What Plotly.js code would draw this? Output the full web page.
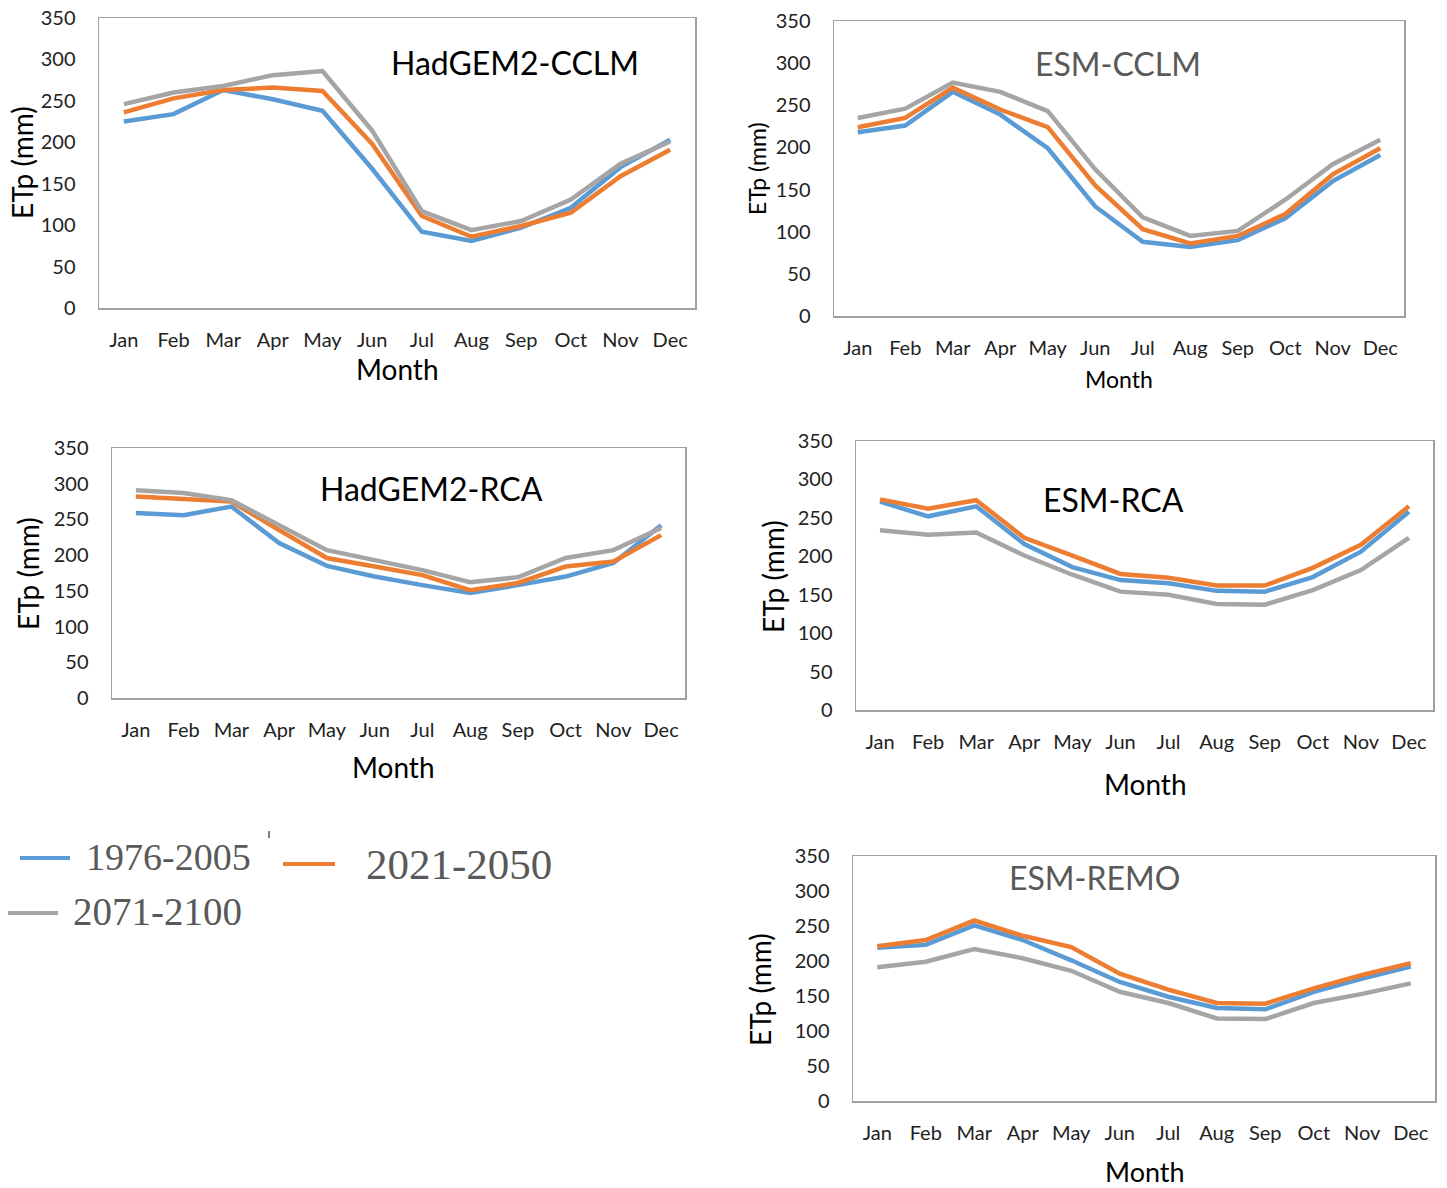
<!DOCTYPE html>
<html>
<head>
<meta charset="utf-8">
<script src="https://cdn.plot.ly/plotly-3.0.1.min.js"></script>
<style>html,body{margin:0;padding:0;background:#fff;}#chart{width:1447px;height:1188px;}</style>
</head>
<body>
<div id="chart"></div>
<script>
// ---- data ----
const months = ["Jan","Feb","Mar","Apr","May","Jun","Jul","Aug","Sep","Oct","Nov","Dec"];
const periods = ["1976-2005","2021-2050","2071-2100"];
const yTicks = [0,50,100,150,200,250,300,350];

const hadCclm_1976 = [225,234,263,252,238,168,92,81,97,121,170,203];
const hadCclm_2021 = [236,253,263,266,262,198,111,86,99,115,159,191];
const hadCclm_2071 = [246,260,268,281,286,214,117,94,105,131,174,201];

const esmCclm_1976 = [218,226,266,239,199,130,88,82,90,116,160,191];
const esmCclm_2021 = [224,235,271,245,224,155,103,86,95,121,168,199];
const esmCclm_2071 = [235,246,277,266,243,174,117,95,101,138,180,209];

const hadRca_1976 = [259,256,268,217,185,170,158,147,158,170,189,242];
const hadRca_2021 = [282,279,275,235,196,184,172,151,161,184,191,228];
const hadRca_2071 = [291,287,277,242,207,193,179,162,169,196,207,238];

const esmRca_1976 = [271,252,265,216,186,169,165,155,154,173,206,258];
const esmRca_2021 = [274,262,273,224,201,177,172,162,162,185,215,265];
const esmRca_2071 = [234,228,231,201,176,154,150,138,137,156,182,224];

const esmRemo_1976 = [219,223,251,230,201,170,149,133,131,156,175,192];
const esmRemo_2021 = [221,230,258,236,220,182,159,140,139,161,180,197];
const esmRemo_2071 = [191,199,217,204,186,156,140,118,117,140,153,168];

// ---- layout helpers ----
const W = 1447, H = 1188;
const px = v => v / W;
const py = v => 1 - v / H;
const colors = ["#5B9BD5", "#ED7D31", "#A5A5A5"];
const FONT = "Lato, 'Open Sans', sans-serif";

const panels = [
  {series:[hadCclm_1976,hadCclm_2021,hadCclm_2071], title:"HadGEM2-CCLM", titleColor:"#000",
   box:[99,695,18,308], t:[515,62,32], yt:[22,163,28], xt:[397,369,28]},
  {series:[esmCclm_1976,esmCclm_2021,esmCclm_2071], title:"ESM-CCLM", titleColor:"#595959",
   box:[834,1404,21,316], t:[1118,64,32], yt:[757,169,23], xt:[1119,379,23]},
  {series:[hadRca_1976,hadRca_2021,hadRca_2071], title:"HadGEM2-RCA", titleColor:"#000",
   box:[112,685,448,698], t:[432,488,32], yt:[28,574,28], xt:[393,767,28]},
  {series:[esmRca_1976,esmRca_2021,esmRca_2071], title:"ESM-RCA", titleColor:"#000",
   box:[856,1433,441,710], t:[1113,500,32], yt:[773,577,28], xt:[1145,784,28]},
  {series:[esmRemo_1976,esmRemo_2021,esmRemo_2071], title:"ESM-REMO", titleColor:"#595959",
   box:[853,1435,856,1101], t:[1094,877,32], yt:[760,990,28], xt:[1145,1171,27]}
];

const data = [];
const layout = {
  width: W, height: H,
  margin: {l:0, r:0, t:0, b:0},
  paper_bgcolor: "#fff", plot_bgcolor: "#fff",
  showlegend: false,
  font: {family: FONT, color: "#222"},
  annotations: [], shapes: []
};

panels.forEach((p, i) => {
  const n = i === 0 ? "" : String(i + 1);
  p.series.forEach((s, k) => {
    data.push({
      type: "scatter", mode: "lines", x: months, y: s, name: periods[k],
      xaxis: "x" + n, yaxis: "y" + n,
      line: {color: colors[k], width: 4.5}, hoverinfo: "x+y+name"
    });
  });
  const [l, r, t, b] = p.box;
  layout["xaxis" + n] = {
    domain: [px(l), px(r)], anchor: "y" + n, type: "category",
    range: [-0.5, 11.5], showgrid: false, zeroline: false,
    showline: true, mirror: true, linecolor: "#A0A0A0", linewidth: 1.5,
    ticks: "", ticklabelstandoff: 13,
    tickfont: {family: FONT, size: 20, color: "#222"}
  };
  layout["yaxis" + n] = {
    domain: [py(b), py(t)], anchor: "x" + n,
    range: [0, 350], tickvals: yTicks, showgrid: false, zeroline: false,
    showline: true, mirror: true, linecolor: "#A0A0A0", linewidth: 1.5,
    ticks: "", ticklabelstandoff: 18,
    tickfont: {family: FONT, size: 20, color: "#222"}
  };
  layout.annotations.push(
    {xref:"paper", yref:"paper", x:px(p.t[0]), y:py(p.t[1]), text:p.title, showarrow:false,
     xanchor:"center", yanchor:"middle", font:{family:FONT, size:p.t[2], color:p.titleColor}},
    {xref:"paper", yref:"paper", x:px(p.yt[0]), y:py(p.yt[1]), text:"ETp (mm)", showarrow:false,
     textangle:-90, xanchor:"center", yanchor:"middle", font:{family:FONT, size:p.yt[2], color:"#000"}},
    {xref:"paper", yref:"paper", x:px(p.xt[0]), y:py(p.xt[1]), text:"Month", showarrow:false,
     xanchor:"center", yanchor:"middle", font:{family:FONT, size:p.xt[2], color:"#000"}}
  );
});

// ---- custom legend (bottom-left) ----
const SERIF = "'Liberation Serif', 'DejaVu Serif', serif";
const legendItems = [
  {k:0, line:[20,70,858], text:[84,857,38]},
  {k:1, line:[283,335,864], text:[364,864,43]},
  {k:2, line:[8,58,913], text:[71,912,39]}
];
legendItems.forEach(it => {
  layout.shapes.push({type:"line", xref:"paper", yref:"paper",
    x0:px(it.line[0]), x1:px(it.line[1]), y0:py(it.line[2]), y1:py(it.line[2]),
    line:{color:colors[it.k], width:4}});
  layout.annotations.push({xref:"paper", yref:"paper", x:px(it.text[0]), y:py(it.text[1]),
    text:periods[it.k], showarrow:false, xanchor:"left", yanchor:"middle",
    font:{family:SERIF, size:it.text[2], color:"#595959"}});
});
layout.shapes.push({type:"line", xref:"paper", yref:"paper",
  x0:px(269), x1:px(269), y0:py(831), y1:py(838), line:{color:"#000", width:1}});

Plotly.newPlot("chart", data, layout, {staticPlot: true, displayModeBar: false});
</script>
</body>
</html>
